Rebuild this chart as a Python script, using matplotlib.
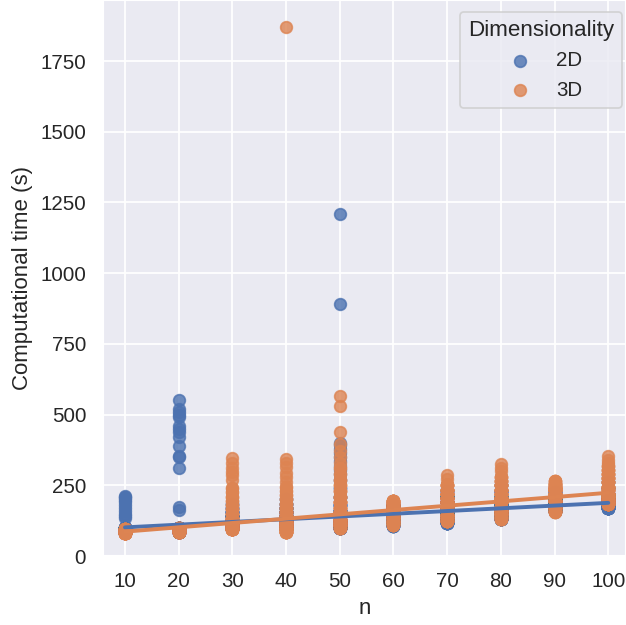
import numpy as np
import matplotlib
matplotlib.use("Agg")
import matplotlib.pyplot as plt
import seaborn as sns

# n values on the x axis
n_levels = [10, 20, 30, 40, 50, 60, 70, 80, 90, 100]

# 2D runs: times (s), with how many runs sit at each value
t2d_10 = [213, 208, 204, 198, 190, 180, 168, 160, 150, 142, 135, 100, 95, 90, 86]
c2d_10 = [1, 1, 1, 1, 1, 1, 1, 1, 1, 1, 1, 30, 45, 60, 54]
t2d_20 = [551, 520, 510, 500, 490, 460, 450, 440, 420, 390, 355, 350, 310, 175, 162, 98, 93, 89, 86]
c2d_20 = [1, 1, 1, 1, 1, 1, 1, 1, 1, 1, 1, 1, 1, 1, 1, 35, 50, 60, 40]
t2d_30 = [185, 170, 155, 140, 125, 115, 105, 98]
c2d_30 = [3, 5, 10, 20, 35, 50, 45, 32]
t2d_40 = [200, 185, 170, 155, 140, 128, 118, 105, 95]
c2d_40 = [3, 6, 12, 20, 35, 45, 40, 25, 14]
t2d_50 = [1210, 890, 400, 392, 380, 365, 350, 335, 320, 305, 290,
          270, 240, 210, 180, 160, 140, 125, 115, 107, 100]
c2d_50 = [1, 1, 1, 1, 1, 1, 1, 1, 1, 1, 1, 2, 3, 5, 8, 12, 18, 30, 40, 40, 31]
t2d_60 = [180, 170, 160, 150, 140, 130, 120, 110, 105]
c2d_60 = [20, 25, 30, 30, 30, 25, 20, 12, 8]
t2d_70 = [230, 210, 190, 175, 160, 148, 135, 125, 117]
c2d_70 = [5, 20, 25, 30, 30, 30, 25, 18, 17]
t2d_80 = [250, 230, 210, 195, 180, 165, 152, 140, 130]
c2d_80 = [4, 8, 15, 20, 28, 35, 35, 32, 23]
t2d_90 = [225, 210, 198, 188, 178, 170, 165, 160]
c2d_90 = [5, 12, 20, 28, 35, 40, 35, 25]
t2d_100 = [260, 240, 220, 205, 195, 185, 178, 172, 168]
c2d_100 = [3, 5, 10, 17, 25, 40, 40, 35, 25]

# 3D runs
t3d_10 = [95, 92, 89, 86, 83, 80]
c3d_10 = [20, 40, 50, 50, 30, 10]
t3d_20 = [100, 95, 91, 88, 85]
c3d_20 = [10, 30, 60, 60, 40]
t3d_30 = [346, 330, 312, 298, 285, 270, 240, 225, 210, 195, 180, 165, 150, 135, 122, 110, 100, 94]
c3d_30 = [1, 1, 1, 1, 1, 1, 2, 2, 3, 3, 4, 5, 6, 10, 20, 45, 55, 39]
t3d_40 = [1870, 342, 330, 315, 295, 280, 262, 245, 230, 215, 200, 185, 170, 155, 140, 127, 115, 105, 95, 85]
c3d_40 = [1, 1, 1, 1, 1, 1, 1, 2, 2, 3, 4, 5, 7, 10, 15, 25, 35, 40, 30, 15]
t3d_50 = [565, 530, 440, 395, 370, 350, 330, 310, 290, 270, 250,
          230, 210, 190, 170, 155, 140, 128, 118, 108, 100]
c3d_50 = [1, 1, 1, 1, 1, 1, 1, 2, 2, 3, 4, 5, 7, 10, 9, 13, 25, 30, 40, 33, 10]
t3d_60 = [195, 185, 175, 165, 155, 145, 135, 125, 115, 110]
c3d_60 = [15, 20, 25, 30, 30, 25, 20, 15, 12, 8]
t3d_70 = [285, 272, 250, 235, 220, 205, 190, 175, 160, 145, 133, 122]
c3d_70 = [1, 1, 10, 15, 20, 22, 25, 28, 25, 20, 18, 15]
t3d_80 = [325, 312, 300, 280, 265, 250, 235, 220, 205, 190, 175, 160, 148, 138, 132]
c3d_80 = [1, 1, 1, 5, 8, 12, 15, 18, 22, 25, 25, 25, 22, 12, 8]
t3d_90 = [265, 255, 245, 232, 220, 208, 195, 182, 170, 160, 155]
c3d_90 = [5, 10, 15, 25, 28, 28, 25, 30, 20, 9, 5]
t3d_100 = [355, 340, 330, 320, 305, 290, 275, 260, 245, 232, 220, 208, 198, 190, 183]
c3d_100 = [1, 1, 1, 4, 6, 8, 10, 10, 13, 12, 25, 28, 35, 25, 21]

times_2d = [t2d_10, t2d_20, t2d_30, t2d_40, t2d_50, t2d_60, t2d_70, t2d_80, t2d_90, t2d_100]
counts_2d = [c2d_10, c2d_20, c2d_30, c2d_40, c2d_50, c2d_60, c2d_70, c2d_80, c2d_90, c2d_100]
times_3d = [t3d_10, t3d_20, t3d_30, t3d_40, t3d_50, t3d_60, t3d_70, t3d_80, t3d_90, t3d_100]
counts_3d = [c3d_10, c3d_20, c3d_30, c3d_40, c3d_50, c3d_60, c3d_70, c3d_80, c3d_90, c3d_100]


def expand(levels, times, counts):
    xs, ys = [], []
    for n, t, c in zip(levels, times, counts):
        y = np.repeat(t, c)
        xs.append(np.full(len(y), n))
        ys.append(y)
    return np.concatenate(xs), np.concatenate(ys)


sns.set_theme()
plt.rcParams["font.family"] = ["Liberation Sans", "DejaVu Sans"]
plt.rcParams.update({"xtick.labelsize": 11.8, "ytick.labelsize": 11.8,
                     "axes.labelsize": 12.8, "legend.fontsize": 11.8,
                     "legend.title_fontsize": 12.9})
pal = sns.color_palette("deep")

fig = plt.figure(figsize=(626 / 125, 5), dpi=125)
ax = fig.add_axes([102.7 / 626, 69 / 625, 523.3 / 626, 556 / 625])

x2, y2 = expand(n_levels, times_2d, counts_2d)
x3, y3 = expand(n_levels, times_3d, counts_3d)
sns.regplot(x=x2, y=y2, ax=ax, ci=None, color=pal[0], label="2D", scatter_kws={"s": 45})
sns.regplot(x=x3, y=y3, ax=ax, ci=None, color=pal[1], label="3D", scatter_kws={"s": 45})

ax.set_xlim(5.85, 103.3)
ax.set_ylim(0, 1966)
ax.set_xticks(n_levels)
ax.set_yticks(range(0, 1751, 250))
ax.set_xlabel("n")
ax.set_ylabel("Computational time (s)")
ax.legend(title="Dimensionality", loc="upper right",
          bbox_to_anchor=(0.9924, 0.9784), borderaxespad=0)

fig.savefig("out.png", dpi=125)
